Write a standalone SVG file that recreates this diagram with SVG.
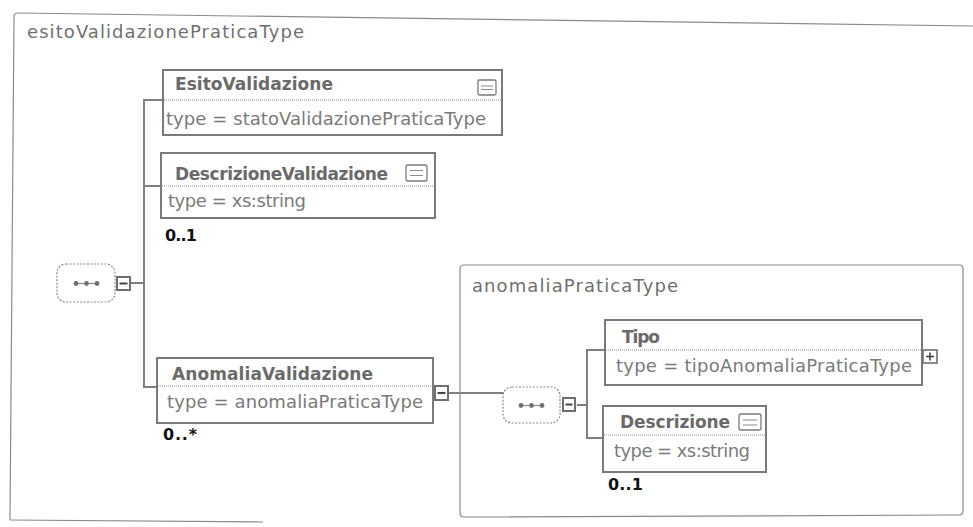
<svg xmlns="http://www.w3.org/2000/svg" width="973" height="527" viewBox="0 0 973 527">
  <style>
    .frame { fill: none; stroke: #8a8a8a; stroke-width: 1.2; }
    .box { fill: #ffffff; stroke: #7a7a7a; stroke-width: 2; }
    .divider { stroke: #8a8a8a; stroke-width: 1; stroke-dasharray: 1 1; }
    .wire { fill: none; stroke: #7f7f7f; stroke-width: 2; }
    .seq { fill: #ffffff; stroke: #8a8a8a; stroke-width: 1.2; stroke-dasharray: 2 1.5; }
    .dots { stroke: #8a8a8a; stroke-width: 1.2; }
    .dot { fill: #6f6f6f; }
    .toggle { fill: #ffffff; stroke: #6f6f6f; stroke-width: 2; }
    .sign { stroke: #444444; stroke-width: 2; }
    .doc { fill: #ffffff; stroke: #7a7a7a; stroke-width: 1.3; }
    .docline { stroke: #8a8a8a; stroke-width: 1; }
    .caption { font-family: "DejaVu Sans", Verdana, sans-serif; font-size: 18px; fill: #707070; }
    .name { font-family: "DejaVu Sans", Verdana, sans-serif; font-size: 17px; font-weight: bold; fill: #6a6a6a; }
    .type { font-family: "DejaVu Sans", Verdana, sans-serif; font-size: 18px; fill: #7a7a7a; }
    .mult { font-family: "DejaVu Sans", Verdana, sans-serif; font-size: 16px; font-weight: bold; fill: #111111; }
  </style>

  <!-- complex type frame: esitoValidazionePraticaType -->
  <g id="esitoValidazionePraticaType">
    <path class="frame" d="M10,520 L14,17 Q14,13 18,13 L973,26"/>
    <path class="frame" d="M10,520 L263,522"/>
    <text class="caption" x="27" y="38" textLength="277">esitoValidazionePraticaType</text>
  </g>

  <!-- connectors -->
  <g id="connectors">
    <path class="wire" d="M131,283 H144"/>
    <path class="wire" d="M163,100 H144 V387 H157"/>
    <path class="wire" d="M144,186 H161"/>
    <path class="wire" d="M449,393 H505"/>
    <path class="wire" d="M577,405 H587"/>
    <path class="wire" d="M605,350 H587 V438 H603"/>
  </g>

  <!-- outer sequence compositor -->
  <g id="sequence-main">
    <rect class="seq" x="57" y="264" width="58" height="38" rx="9"/>
    <line class="dots" x1="76" y1="283.5" x2="97" y2="283.5"/>
    <circle class="dot" cx="76" cy="283.5" r="2.4"/>
    <circle class="dot" cx="86.5" cy="283.5" r="2.4"/>
    <circle class="dot" cx="97" cy="283.5" r="2.4"/>
    <rect class="toggle" x="117" y="277" width="13" height="13"/>
    <line class="sign" x1="119.5" y1="283.5" x2="127.5" y2="283.5"/>
  </g>

  <!-- element EsitoValidazione -->
  <g id="EsitoValidazione">
    <rect class="box" x="163" y="70" width="339" height="65"/>
    <line class="divider" x1="164" y1="100" x2="501" y2="100"/>
    <text class="name" x="175" y="90" textLength="158">EsitoValidazione</text>
    <rect class="doc" x="478" y="80" width="18" height="15" rx="1.5"/>
    <line class="docline" x1="481" y1="86" x2="493" y2="86"/>
    <line class="docline" x1="481" y1="89.5" x2="493" y2="89.5"/>
    <text class="type" x="166" y="125" textLength="320">type = statoValidazionePraticaType</text>
  </g>

  <!-- element DescrizioneValidazione -->
  <g id="DescrizioneValidazione">
    <rect class="box" x="161" y="153" width="274" height="65"/>
    <line class="divider" x1="162" y1="186" x2="434" y2="186"/>
    <text class="name" x="175" y="180" textLength="213">DescrizioneValidazione</text>
    <rect class="doc" x="406" y="165" width="21" height="16" rx="2"/>
    <line class="docline" x1="410" y1="170.5" x2="423" y2="170.5"/>
    <line class="docline" x1="410" y1="175.5" x2="423" y2="175.5"/>
    <text class="type" x="168" y="207" textLength="138">type = xs:string</text>
    <text class="mult" x="165" y="241" textLength="32">0..1</text>
  </g>

  <!-- element AnomaliaValidazione -->
  <g id="AnomaliaValidazione">
    <rect class="box" x="157" y="358" width="276" height="65"/>
    <line class="divider" x1="158" y1="386" x2="432" y2="386"/>
    <text class="name" x="172" y="380" textLength="201">AnomaliaValidazione</text>
    <text class="type" x="167" y="408" textLength="256">type = anomaliaPraticaType</text>
    <rect class="toggle" x="435" y="386" width="13" height="14"/>
    <line class="sign" x1="437.5" y1="393" x2="445.5" y2="393"/>
    <text class="mult" x="163" y="440" textLength="34">0..*</text>
  </g>

  <!-- complex type frame: anomaliaPraticaType -->
  <g id="anomaliaPraticaType">
    <path class="frame" d="M464,265 H959 Q963,265 963,269 V511 Q963,515 959,515 L464,517 Q460,517 460,513 V269 Q460,265 464,265 Z"/>
    <text class="caption" x="472" y="292" textLength="206">anomaliaPraticaType</text>
  </g>

  <!-- inner sequence compositor -->
  <g id="sequence-anomalia">
    <rect class="seq" x="503" y="387" width="57" height="36" rx="9"/>
    <line class="dots" x1="521" y1="405.5" x2="542" y2="405.5"/>
    <circle class="dot" cx="521" cy="405.5" r="2.4"/>
    <circle class="dot" cx="531.5" cy="405.5" r="2.4"/>
    <circle class="dot" cx="542" cy="405.5" r="2.4"/>
    <rect class="toggle" x="563" y="398" width="12" height="13"/>
    <line class="sign" x1="565.5" y1="404.5" x2="572.5" y2="404.5"/>
  </g>

  <!-- element Tipo -->
  <g id="Tipo">
    <rect class="box" x="605" y="320" width="317" height="65"/>
    <line class="divider" x1="606" y1="350" x2="921" y2="350"/>
    <text class="name" x="622" y="343" textLength="38">Tipo</text>
    <text class="type" x="616" y="372" textLength="296">type = tipoAnomaliaPraticaType</text>
    <rect class="toggle" x="923" y="350" width="14" height="13" style="stroke-width:1.6"/>
    <line class="sign" x1="926" y1="356.5" x2="934" y2="356.5" style="stroke-width:1.6"/>
    <line class="sign" x1="930" y1="352.5" x2="930" y2="360.5" style="stroke-width:1.6"/>
  </g>

  <!-- element Descrizione -->
  <g id="Descrizione">
    <rect class="box" x="603" y="406" width="163" height="66"/>
    <line class="divider" x1="604" y1="435" x2="765" y2="435"/>
    <text class="name" x="620" y="428" textLength="110">Descrizione</text>
    <rect class="doc" x="739" y="414" width="22" height="16" rx="2"/>
    <line class="docline" x1="743" y1="420" x2="757" y2="420"/>
    <line class="docline" x1="743" y1="425" x2="757" y2="425"/>
    <text class="type" x="614" y="457" textLength="136">type = xs:string</text>
    <text class="mult" x="608" y="490" textLength="35">0..1</text>
  </g>
</svg>
